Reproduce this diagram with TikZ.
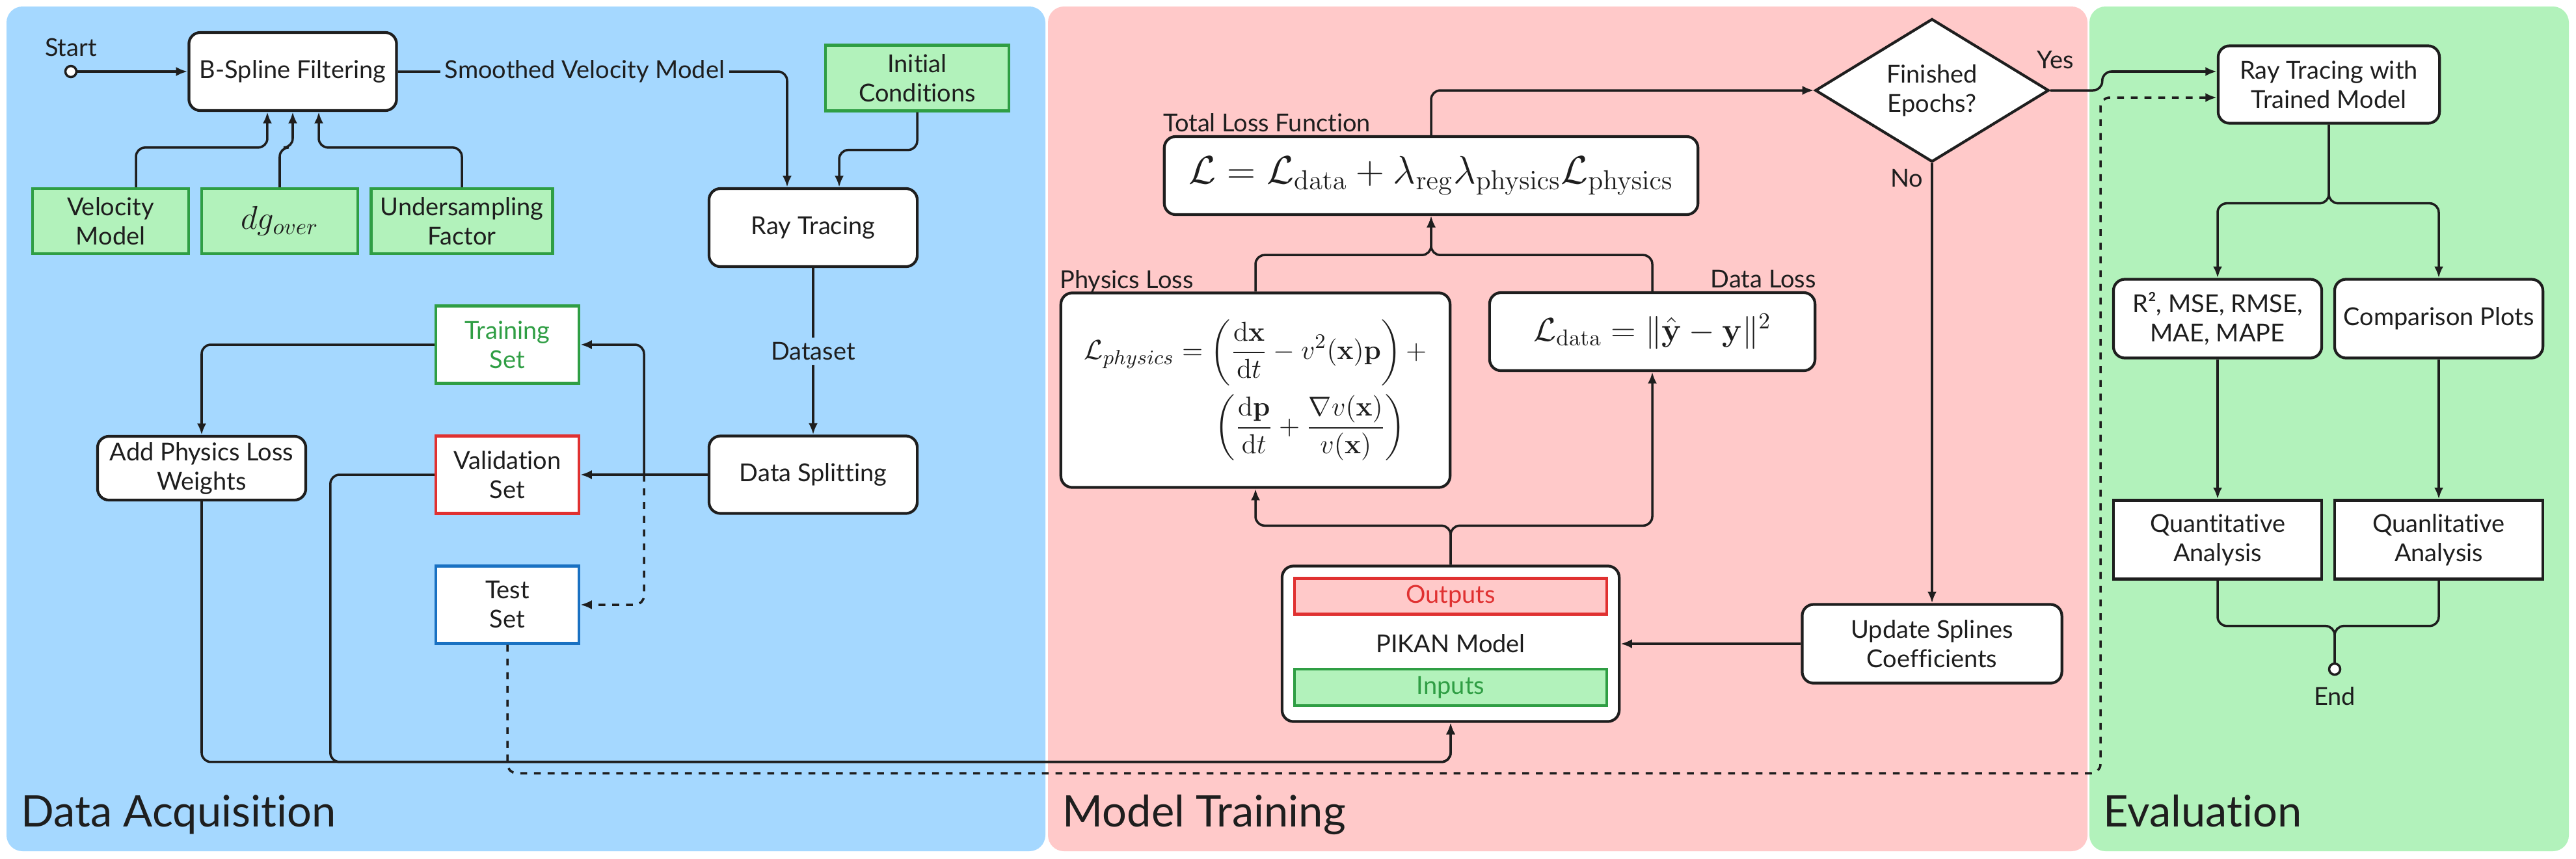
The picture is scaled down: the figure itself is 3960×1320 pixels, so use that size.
\documentclass[tikz,border=0pt]{standalone}
\usepackage[no-math]{fontspec}
\setmainfont{Lato}[Ligatures=NoCommon]
\usepackage{amsmath}
\usepackage{tikz}
\usepackage{xcolor}
\usetikzlibrary{arrows.meta,shapes.geometric}

\definecolor{acqblue}{HTML}{A5D8FF}
\definecolor{trainpink}{HTML}{FFC9C9}
\definecolor{evalgreen}{HTML}{B2F2BB}
\definecolor{inkgreen}{HTML}{2F9E44}
\definecolor{inkred}{HTML}{E03131}
\definecolor{inkblue}{HTML}{1971C2}
\definecolor{ink}{HTML}{1E1E1E}

\begin{document}
\begin{tikzpicture}[x=0.01cm,y=-0.01cm,>={Latex[length=5pt,width=4pt]},
		font=\fontsize{10.8}{12.8}\selectfont, text=ink,
		panel/.style={rounded corners=7pt},
		paneltitle/.style={anchor=base west, inner sep=0pt, font=\fontsize{19}{22}\selectfont},
		procbox/.style={draw=ink, fill=white, line width=1.2pt, rounded corners=5pt, align=center, inner sep=0pt},
		sharpbox/.style={draw=ink, fill=white, line width=1.2pt, align=center, inner sep=0pt, minimum width=3.2cm, minimum height=1.21cm},
		parambox/.style={draw=inkgreen, fill=evalgreen, line width=1.2pt, align=center, inner sep=0pt, minimum height=1cm},
		setbox/.style={fill=white, line width=1.2pt, align=center, inner sep=0pt, minimum width=2.2cm, minimum height=1.19cm},
		eqn/.style={font=\fontsize{14}{17}\selectfont},
		tag/.style={inner sep=2pt},
		boxlabel/.style={inner sep=0pt, yshift=1.5pt},
		terminal/.style={circle, draw=ink, fill=white, line width=1pt, inner sep=0pt, minimum size=0.17cm},
		wire/.style={draw=ink, line width=1pt, rounded corners=4pt}]
	\useasboundingbox (0,0) rectangle (3960,1320);
	%% ========================================================
	\fill[acqblue, panel] (10,10) rectangle (1607,1309);
	\fill[trainpink, panel] (1611,10) rectangle (3209,1309);
	\fill[evalgreen, panel] (3212,10) rectangle (3949,1309);
	\node[paneltitle] (acqtitle) at (32,1271) {Data Acquisition};
	\node[paneltitle] (traintitle) at (1633,1271) {Model Training};
	\node[paneltitle] (evaltitle) at (3233,1271) {Evaluation};
	%% ========================================================
	\node[terminal] (begin) at (109,110) {};
	\node[anchor=base, inner sep=0pt] (beginlbl) at (109,86) {Start};
	\node[procbox, minimum width=3.19cm, minimum height=1.2cm] (bspl) at (450,110) {B-Spline Filtering};
	\node[parambox, minimum width=2.4cm] (velmod) at (170,340) {Velocity\\Model};
	\node[parambox, minimum width=2.4cm, eqn] (dgover) at (430,340) {$dg_{over}$};
	\node[parambox, minimum width=2.79cm] (usf) at (710,340) {Undersampling\\Factor};
	\node[parambox, minimum width=2.82cm, minimum height=1.01cm] (initc) at (1410,120) {Initial\\Conditions};
	\node[procbox, minimum width=3.2cm, minimum height=1.2cm] (raytr) at (1250,350) {Ray Tracing};
	\node[procbox, minimum width=3.2cm, minimum height=1.19cm] (split) at (1250,730) {Data Splitting};
	\node[setbox, draw=inkgreen, text=inkgreen] (trainset) at (780,530) {Training\\Set};
	\node[setbox, draw=inkred] (valset) at (780,730) {Validation\\Set};
	\node[setbox, draw=inkblue] (testset) at (780,930) {Test\\Set};
	\node[procbox, minimum width=3.2cm, minimum height=0.98cm] (addphys) at (310,720) {Add Physics Loss\\Weights};
	%% ========================================================
	\node[procbox, minimum width=8.2cm, minimum height=1.2cm, eqn, font=\fontsize{16.8}{19}\selectfont] (total) at (2200,270)
		{$\mathcal{L} = \mathcal{L}_{\mathrm{data}} + \lambda_{\mathrm{reg}}\lambda_{\mathrm{physics}}\mathcal{L}_{\mathrm{physics}}$};
	\node[boxlabel, anchor=base west] (totallbl) at (total.north west) {Total Loss Function};
	\node[procbox, minimum width=5.98cm, minimum height=2.99cm, eqn, font=\fontsize{12.8}{15}\selectfont] (phys) at (1930,600)
		{$\begin{aligned}\mathcal{L}_{physics} &= \left(\dfrac{\mathrm{d}\mathbf{x}}{\mathrm{d}t} - v^2(\mathbf{x})\mathbf{p}\right) + \\
		&\hphantom{{}={}}\left(\dfrac{\mathrm{d}\mathbf{p}}{\mathrm{d}t} + \dfrac{\nabla v(\mathbf{x})}{v(\mathbf{x})}\right)\end{aligned}$};
	\node[boxlabel, anchor=base west] (physlbl) at (phys.north west) {Physics Loss};
	\node[procbox, minimum width=5cm, minimum height=1.2cm, eqn] (dloss) at (2540,510)
		{$\mathcal{L}_{\mathrm{data}} = \|\hat{\mathbf{y}} - \mathbf{y}\|^2$};
	\node[boxlabel, anchor=base east] (dlosslbl) at (dloss.north east) {Data Loss};
	\node[procbox, minimum width=5.18cm, minimum height=2.39cm] (pikan) at (2230,990) {PIKAN Model};
	\node[draw=inkred, fill=trainpink, text=inkred, line width=1.2pt, minimum width=4.8cm, minimum height=0.55cm, inner sep=0pt] (outs) at (2230,917) {Outputs};
	\node[draw=inkgreen, fill=evalgreen, text=inkgreen, line width=1.2pt, minimum width=4.8cm, minimum height=0.56cm, inner sep=0pt] (ins) at (2230,1057) {Inputs};
	\node[diamond, aspect=1.63, draw=ink, fill=white, line width=1.2pt, minimum width=3.59cm, minimum height=2.2cm, align=center, inner sep=0pt] (epochs) at (2970,139) {Finished\\Epochs?};
	\node[procbox, minimum width=3.99cm, minimum height=1.21cm] (upd) at (2970,990) {Update Splines\\Coefficients};
	%% ========================================================
	\node[procbox, minimum width=3.4cm, minimum height=1.19cm] (rtt) at (3580,130) {Ray Tracing with\\Trained Model};
	\node[procbox, minimum width=3.2cm, minimum height=1.21cm] (metrics) at (3409,490) {R², MSE, RMSE,\\MAE, MAPE};
	\node[procbox, minimum width=3.2cm, minimum height=1.21cm] (cmpplots) at (3749,490) {Comparison Plots};
	\node[sharpbox] (quant) at (3409,830) {Quantitative\\Analysis};
	\node[sharpbox] (qual) at (3749,830) {Quanlitative\\Analysis};
	\node[terminal] (finish) at (3589,1029) {};
	\node[anchor=base, inner sep=0pt] (finishlbl) at (3589,1084) {End};
	%% ========================================================
	\coordinate (fork) at (990,730);
	\coordinate (evalbus) at (3229,1189);

	\draw[wire,->] (begin.east) -- (bspl.west);
	\draw[wire,->] ([xshift=3.9mm]velmod.north) -- ++(0,-61) -| ([xshift=-3.9mm]bspl.south);
	\draw[wire,->] (dgover.north) -- ++(0,-61) -| (bspl.south);
	\draw[wire,->] (usf.north) -- ++(0,-61) -| ([xshift=4mm]bspl.south);
	\draw[wire,->] (bspl.east) -| node[tag, fill=acqblue, pos=0.24] {Smoothed Velocity Model} ([xshift=-4mm]raytr.north);
	\draw[wire,->] (initc.south) -- ++(0,58) -| ([xshift=4mm]raytr.north);
	\draw[wire,->] (raytr) -- node[tag, fill=acqblue] {Dataset} (split);
	\draw[wire,->] (split.west) -- (valset.east);
	\draw[wire,->] (fork) |- (trainset.east);
	\draw[wire,->,dashed] (fork) |- (testset.east);
	\draw[wire,->] (trainset.west) -| (addphys.north);
	\draw[wire,->] (addphys.south) |- ([yshift=-6mm]pikan.south) -- (pikan.south);
	\draw[wire,->] (valset.west) -- ++(-160,0) |- ([yshift=-6mm]pikan.south) -- (pikan.south);
	\draw[wire,->,dashed] (testset.south) |- (evalbus) |- ([yshift=-2mm]rtt.west);

	\draw[wire,->] (pikan.north) -- ++(0,-60) -| (phys.south);
	\draw[wire,->] (pikan.north) -- ++(0,-60) -| (dloss.south);
	\draw[wire,->] (phys.north) |- ([yshift=-6mm]total.south) -- (total.south);
	\draw[wire,->] (dloss.north) |- ([yshift=-6mm]total.south) -- (total.south);
	\draw[wire,->] (total.north) |- (epochs.west);
	\draw[wire,->] (epochs.south) -- node[tag, pos=0.034, left=1.5pt] {No} (upd.north);
	\draw[wire,->] (upd.west) -- (pikan.east);
	\draw[wire,->] (epochs.east) -- node[tag, pos=0.1, above=7pt] {Yes} ++(80,0) |- ([yshift=2mm]rtt.west);

	\draw[wire,->] (rtt.south) -- ++(0,121) -| (metrics.north);
	\draw[wire,->] (rtt.south) -- ++(0,121) -| (cmpplots.north);
	\draw[wire,->] (metrics) -- (quant);
	\draw[wire,->] (cmpplots) -- (qual);
	\draw[wire] (quant.south) -- ++(0,70) -| (finish.north);
	\draw[wire] (qual.south) -- ++(0,70) -| (finish.north);
	%% ========================================================
\end{tikzpicture}
\end{document}
